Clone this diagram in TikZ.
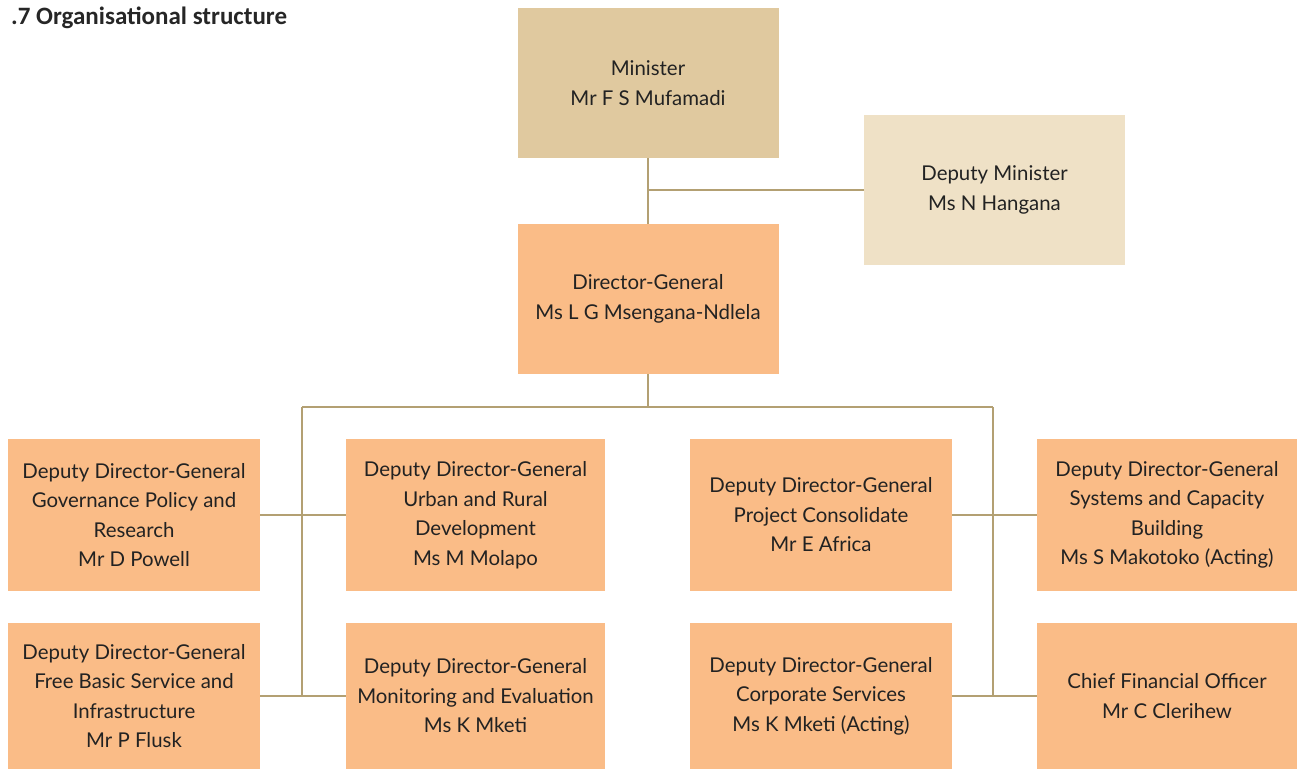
\documentclass[tikz,border=0pt]{standalone}
\usepackage{fontspec}
\setmainfont{Lato}
\newfontfamily\titlefont{Carlito}
\definecolor{mincol}{HTML}{E0C99F}
\definecolor{depcol}{HTML}{EFE1C6}
\definecolor{orgcol}{HTML}{FABC87}
\definecolor{linecol}{HTML}{B3A073}
\definecolor{txtcol}{HTML}{222222}
\begin{document}
\begin{tikzpicture}[x=1pt,y=-1pt,
  box/.style={fill=#1,draw=none,inner sep=0pt,align=center,text=txtcol,
    font=\fontsize{20.4}{29.5}\selectfont},
  conn/.style={draw=linecol,line width=2pt}]
\useasboundingbox (0,0) rectangle (1301,769);
\node[anchor=west,inner sep=0pt,font=\titlefont\bfseries\fontsize{25}{28}\selectfont,text=black!85] (title) at (11,18) {.7 Organisational structure};
\node[box=mincol,minimum width=261pt,minimum height=150pt] (min) at (648,83) {Minister\\Mr F S Mufamadi};
\node[box=depcol,minimum width=261pt,minimum height=150pt] (dep) at (994.5,190) {Deputy Minister\\Ms N Hangana};
\node[box=orgcol,minimum width=261pt,minimum height=150pt] (dg) at (648,299) {Director-General\\Ms L G Msengana-Ndlela};
\node[box=orgcol,minimum width=252pt,minimum height=152pt] (a) at (134,515) {Deputy Director-General\\Governance Policy and\\Research\\Mr D Powell};
\node[box=orgcol,minimum width=259pt,minimum height=152pt] (b) at (475.5,515) {Deputy Director-General\\Urban and Rural\\Development\\Ms M Molapo};
\node[box=orgcol,minimum width=262pt,minimum height=152pt] (c) at (821,515) {Deputy Director-General\\Project Consolidate\\Mr E Africa};
\node[box=orgcol,minimum width=260pt,minimum height=152pt] (d) at (1167,515) {Deputy Director-General\\Systems and Capacity\\Building\\Ms S Makotoko (Acting)};
\node[box=orgcol,minimum width=252pt,minimum height=146pt] (e) at (134,696) {Deputy Director-General\\Free Basic Service and\\Infrastructure\\Mr P Flusk};
\node[box=orgcol,minimum width=259pt,minimum height=146pt] (f) at (475.5,696) {Deputy Director-General\\Monitoring and Evaluation\\Ms K Mketi};
\node[box=orgcol,minimum width=262pt,minimum height=146pt] (g) at (821,696) {Deputy Director-General\\Corporate Services\\Ms K Mketi (Acting)};
\node[box=orgcol,minimum width=260pt,minimum height=146pt] (h) at (1167,696) {Chief Financial Officer\\Mr C Clerihew};
\coordinate (jl) at (302,407);
\coordinate (jr) at (993,407);
\draw[conn] (min.south) -- (dg.north);
\draw[conn] (min.south |- dep.west) -- (dep.west);
\draw[conn] (dg.south) -- (dg.south |- jl);
\draw[conn] (jl) -- (jr);
\draw[conn] (jl) -- (jl |- e.east);
\draw[conn] (jr) -- (jr |- g.east);
\draw[conn] (a.east) -- (b.west);
\draw[conn] (e.east) -- (f.west);
\draw[conn] (c.east) -- (d.west);
\draw[conn] (g.east) -- (h.west);
\end{tikzpicture}
\end{document}
